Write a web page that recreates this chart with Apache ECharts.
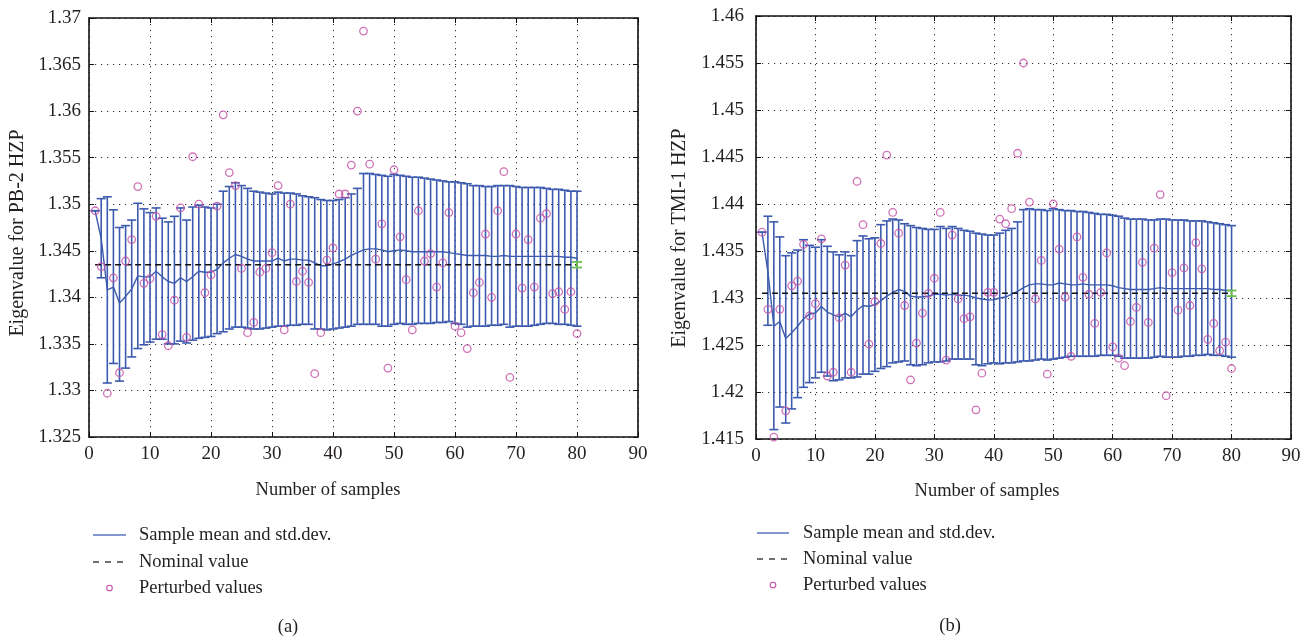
<!DOCTYPE html>
<html>
<head>
<meta charset="utf-8">
<script src="https://cdn.jsdelivr.net/npm/echarts@6/dist/echarts.min.js"></script>
<style>
html,body{margin:0;padding:0;background:#fff;}
#chart{width:1312px;height:644px;}
</style>
</head>
<body>
<div id="chart"></div>
<script>
// ---------- data ----------
const samples = [1,2,3,4,5,6,7,8,9,10,11,12,13,14,15,16,17,18,19,20,
21,22,23,24,25,26,27,28,29,30,31,32,33,34,35,36,37,38,39,40,
41,42,43,44,45,46,47,48,49,50,51,52,53,54,55,56,57,58,59,60,
61,62,63,64,65,66,67,68,69,70,71,72,73,74,75,76,77,78,79,80];

const xTicks = [0,10,20,30,40,50,60,70,80,90];

// (a) PB-2 HZP
const perturbedA = [
1.3493,1.3433,1.3297,1.3421,1.3319,1.3439,1.3462,1.3519,1.3415,1.3420,
1.3487,1.3360,1.3348,1.3397,1.3496,1.3357,1.3551,1.3500,1.3405,1.3424,
1.3498,1.3596,1.3534,1.3520,1.3431,1.3362,1.3373,1.3427,1.3431,1.3448,
1.3520,1.3365,1.3500,1.3417,1.3428,1.3416,1.3318,1.3362,1.3440,1.3453,
1.3511,1.3511,1.3542,1.3600,1.3686,1.3543,1.3441,1.3479,1.3324,1.3537,
1.3465,1.3419,1.3365,1.3493,1.3439,1.3447,1.3411,1.3437,1.3491,1.3369,
1.3362,1.3345,1.3405,1.3416,1.3468,1.3400,1.3493,1.3535,1.3314,1.3468,
1.3410,1.3462,1.3411,1.3485,1.3490,1.3404,1.3406,1.3387,1.3406,1.3361];
const meanA = [
1.3493,1.3463,1.3408,1.3411,1.3394,1.3401,1.3409,1.3423,1.3422,1.3422,
1.3428,1.3422,1.3417,1.3415,1.3421,1.3417,1.3422,1.3428,1.3427,1.3427,
1.3430,1.3437,1.3442,1.3446,1.3444,1.3441,1.3439,1.3439,1.3439,1.3439,
1.3442,1.3439,1.3441,1.3441,1.3440,1.3440,1.3437,1.3434,1.3434,1.3436,
1.3438,1.3441,1.3445,1.3448,1.3451,1.3452,1.3452,1.3451,1.3449,1.3450,
1.3451,1.3450,1.3449,1.3449,1.3449,1.3449,1.3449,1.3449,1.3448,1.3447,
1.3446,1.3445,1.3445,1.3445,1.3445,1.3444,1.3444,1.3445,1.3444,1.3444,
1.3444,1.3444,1.3444,1.3444,1.3444,1.3444,1.3444,1.3443,1.3443,1.3442];
const upperA = [
1.3493,1.3506,1.3508,1.3494,1.3475,1.3477,1.3483,1.3501,1.3495,1.3491,
1.3496,1.3485,1.3481,1.3487,1.3496,1.3483,1.3497,1.3499,1.3497,1.3496,
1.3500,1.3514,1.3519,1.3523,1.3520,1.3517,1.3514,1.3513,1.3512,1.3511,
1.3513,1.3512,1.3512,1.3511,1.3509,1.3508,1.3507,1.3505,1.3504,1.3504,
1.3505,1.3507,1.3511,1.3517,1.3533,1.3533,1.3532,1.3531,1.3530,1.3532,
1.3531,1.3530,1.3529,1.3529,1.3528,1.3527,1.3526,1.3525,1.3524,1.3524,
1.3523,1.3522,1.3520,1.3520,1.3519,1.3519,1.3520,1.3520,1.3520,1.3519,
1.3518,1.3518,1.3518,1.3518,1.3517,1.3516,1.3516,1.3515,1.3514,1.3514];
const lowerA = [
1.3493,1.3421,1.3308,1.3329,1.3310,1.3324,1.3336,1.3345,1.3349,1.3352,
1.3355,1.3355,1.3350,1.3350,1.3353,1.3351,1.3354,1.3356,1.3357,1.3358,
1.3361,1.3363,1.3366,1.3368,1.3368,1.3367,1.3366,1.3366,1.3367,1.3368,
1.3369,1.3369,1.3370,1.3370,1.3371,1.3371,1.3366,1.3366,1.3365,1.3366,
1.3367,1.3368,1.3369,1.3371,1.3371,1.3371,1.3371,1.3369,1.3369,1.3371,
1.3372,1.3371,1.3371,1.3372,1.3372,1.3372,1.3373,1.3373,1.3374,1.3372,
1.3371,1.3368,1.3369,1.3369,1.3369,1.3370,1.3370,1.3371,1.3368,1.3369,
1.3369,1.3369,1.3370,1.3371,1.3372,1.3372,1.3371,1.3371,1.3370,1.3369];
const nominalA = 1.3435;
const nominalSpreadA = [1.3432, 1.3438];

// (b) TMI-1 HZP
const perturbedB = [
1.4370,1.4288,1.4152,1.4288,1.4180,1.4313,1.4318,1.4357,1.4281,1.4294,
1.4363,1.4217,1.4221,1.4279,1.4335,1.4221,1.4424,1.4378,1.4251,1.4296,
1.4358,1.4452,1.4391,1.4369,1.4292,1.4213,1.4252,1.4284,1.4305,1.4321,
1.4391,1.4234,1.4367,1.4299,1.4278,1.4280,1.4181,1.4220,1.4306,1.4306,
1.4384,1.4379,1.4395,1.4454,1.4550,1.4402,1.4299,1.4340,1.4219,1.4400,
1.4352,1.4301,1.4238,1.4365,1.4322,1.4304,1.4273,1.4306,1.4348,1.4248,
1.4236,1.4228,1.4275,1.4290,1.4338,1.4274,1.4353,1.4410,1.4196,1.4327,
1.4287,1.4332,1.4292,1.4359,1.4331,1.4256,1.4273,1.4244,1.4253,1.4225];
const meanB = [
1.4370,1.4328,1.4270,1.4275,1.4257,1.4263,1.4270,1.4278,1.4283,1.4284,
1.4291,1.4285,1.4282,1.4280,1.4284,1.4280,1.4287,1.4292,1.4291,1.4293,
1.4297,1.4302,1.4306,1.4309,1.4307,1.4302,1.4301,1.4301,1.4302,1.4304,
1.4304,1.4303,1.4304,1.4303,1.4303,1.4302,1.4300,1.4299,1.4298,1.4298,
1.4300,1.4301,1.4304,1.4307,1.4311,1.4314,1.4315,1.4315,1.4314,1.4314,
1.4316,1.4315,1.4314,1.4314,1.4315,1.4314,1.4314,1.4314,1.4314,1.4313,
1.4311,1.4310,1.4309,1.4309,1.4309,1.4309,1.4310,1.4311,1.4310,1.4310,
1.4310,1.4310,1.4310,1.4310,1.4310,1.4310,1.4309,1.4309,1.4308,1.4308];
const upperB = [
1.4370,1.4387,1.4381,1.4365,1.4345,1.4348,1.4351,1.4362,1.4356,1.4354,
1.4362,1.4355,1.4349,1.4346,1.4349,1.4345,1.4361,1.4366,1.4363,1.4364,
1.4378,1.4382,1.4384,1.4383,1.4379,1.4377,1.4375,1.4374,1.4373,1.4373,
1.4376,1.4374,1.4376,1.4374,1.4372,1.4371,1.4369,1.4368,1.4367,1.4367,
1.4369,1.4372,1.4374,1.4381,1.4394,1.4395,1.4394,1.4394,1.4393,1.4395,
1.4394,1.4393,1.4393,1.4392,1.4392,1.4391,1.4390,1.4389,1.4389,1.4388,
1.4387,1.4385,1.4384,1.4384,1.4384,1.4383,1.4383,1.4384,1.4384,1.4383,
1.4383,1.4383,1.4382,1.4382,1.4382,1.4381,1.4380,1.4379,1.4378,1.4377];
const lowerB = [
1.4370,1.4271,1.4160,1.4184,1.4167,1.4182,1.4194,1.4205,1.4210,1.4215,
1.4221,1.4217,1.4212,1.4213,1.4215,1.4215,1.4216,1.4219,1.4219,1.4222,
1.4225,1.4227,1.4231,1.4232,1.4233,1.4229,1.4228,1.4229,1.4231,1.4232,
1.4232,1.4233,1.4235,1.4235,1.4235,1.4235,1.4229,1.4228,1.4230,1.4231,
1.4230,1.4231,1.4231,1.4232,1.4233,1.4233,1.4234,1.4235,1.4234,1.4235,
1.4236,1.4237,1.4238,1.4238,1.4238,1.4238,1.4238,1.4239,1.4239,1.4239,
1.4238,1.4236,1.4236,1.4236,1.4236,1.4236,1.4237,1.4238,1.4237,1.4237,
1.4237,1.4238,1.4238,1.4239,1.4239,1.4240,1.4239,1.4239,1.4238,1.4237];
const nominalB = 1.4305;
const nominalSpreadB = [1.4302, 1.4308];

const yTicksA = [1.325,1.33,1.335,1.34,1.345,1.35,1.355,1.36,1.365,1.37];
const yTicksB = [1.415,1.42,1.425,1.43,1.435,1.44,1.445,1.45,1.455,1.46];

const labels = {
  xTitle: 'Number of samples',
  yTitleA: 'Eigenvalue for PB-2 HZP',
  yTitleB: 'Eigenvalue for TMI-1 HZP',
  legend: ['Sample mean and std.dev.', 'Nominal value', 'Perturbed values'],
  panels: ['(a)', '(b)']
};

// ---------- styling ----------
const FONT = '"Liberation Serif", "DejaVu Serif", serif';
const TXT = '#231f20';
const BLUE = '#3c5aae';
const MAG = '#c44fa5';
const GREEN = '#6cc04a';

function errRender(color, capW, lw) {
  return function (params, api) {
    const x = api.value(0), lo = api.value(1), hi = api.value(2);
    const a = api.coord([x, hi]);
    const b = api.coord([x, lo]);
    const h = capW / 2;
    const st = { stroke: color, lineWidth: lw, fill: null };
    return {
      type: 'group',
      children: [
        { type: 'line', shape: { x1: a[0], y1: a[1], x2: b[0], y2: b[1] }, style: st },
        { type: 'line', shape: { x1: a[0] - h, y1: a[1], x2: a[0] + h, y2: a[1] }, style: st },
        { type: 'line', shape: { x1: b[0] - h, y1: b[1], x2: b[0] + h, y2: b[1] }, style: st }
      ]
    };
  };
}

const fmtY = v => (+v).toFixed(3).replace(/0+$/, '');

function axesFor(gi, yMin, yMax, yMargin) {
  const lineStyle = { color: '#111', width: 1.6 };
  const split = { show: true, lineStyle: { color: '#333', width: 1, type: [1.2, 4.8] } };
  const xs = [
    { type: 'value', gridIndex: gi, min: 0, max: 90, interval: 10, position: 'bottom',
      axisLine: { show: true, onZero: false, lineStyle },
      axisTick: { show: true, inside: true, length: 5, lineStyle: { color: '#111' } },
      axisLabel: { show: true, margin: 8, fontFamily: FONT, fontSize: 19, color: TXT },
      splitLine: split },
    { type: 'value', gridIndex: gi, min: 0, max: 90, interval: 10, position: 'top',
      axisLine: { show: true, onZero: false, lineStyle },
      axisTick: { show: true, inside: true, length: 5, lineStyle: { color: '#111' } },
      axisLabel: { show: false }, splitLine: { show: false } }
  ];
  const ys = [
    { type: 'value', gridIndex: gi, min: yMin, max: yMax, interval: 0.005, position: 'left',
      axisLine: { show: true, onZero: false, lineStyle },
      axisTick: { show: true, inside: true, length: 5, lineStyle: { color: '#111' } },
      axisLabel: { show: true, margin: yMargin, fontFamily: FONT, fontSize: 19, color: TXT, formatter: fmtY },
      splitLine: split },
    { type: 'value', gridIndex: gi, min: yMin, max: yMax, interval: 0.005, position: 'right',
      axisLine: { show: true, onZero: false, lineStyle },
      axisTick: { show: true, inside: true, length: 5, lineStyle: { color: '#111' } },
      axisLabel: { show: false }, splitLine: { show: false } }
  ];
  return { xs, ys };
}

const axA = axesFor(0, yTicksA[0], yTicksA[yTicksA.length - 1], 8);
const axB = axesFor(1, yTicksB[0], yTicksB[yTicksB.length - 1], 12);

function seriesFor(xi, yi, mean, lower, upper, pert, nominal, spread) {
  const errData = samples.map((n, i) => [n, lower[i], upper[i]]);
  const meanData = samples.map((n, i) => [n, mean[i]]);
  const pertData = samples.map((n, i) => [n, pert[i]]);
  const first = samples[0], last = samples[samples.length - 1];
  return [
    { type: 'custom', xAxisIndex: xi, yAxisIndex: yi, renderItem: errRender(BLUE, 9, 1.6),
      encode: { x: 0, y: [1, 2] }, data: errData, z: 2, silent: true },
    { type: 'line', xAxisIndex: xi, yAxisIndex: yi, data: meanData, showSymbol: false, symbol: 'none',
      lineStyle: { color: BLUE, width: 1.4 }, z: 3, silent: true },
    { type: 'line', xAxisIndex: xi, yAxisIndex: yi, data: [[first, nominal], [last, nominal]],
      showSymbol: false, symbol: 'none', lineStyle: { color: '#111', width: 1.4, type: [6, 4] }, z: 4, silent: true },
    { type: 'custom', xAxisIndex: xi, yAxisIndex: yi, renderItem: errRender(GREEN, 10, 1.8),
      encode: { x: 0, y: [1, 2] }, data: [[last, spread[0], spread[1]]], z: 5, silent: true },
    { type: 'scatter', xAxisIndex: xi, yAxisIndex: yi, data: pertData, symbol: 'circle', symbolSize: 7.5,
      itemStyle: { color: 'rgba(0,0,0,0)', borderColor: MAG, borderWidth: 1.3 }, z: 6, silent: true }
  ];
}

const T = (text, x, y, size, opts) => Object.assign({
  type: 'text', x, y,
  style: { text, fontFamily: FONT, fontSize: size, fill: TXT, align: 'center', verticalAlign: 'middle' }
}, opts || {});

function legendGraphics(lx0, lx1, tx, ys) {
  const ts = (t, y) => ({ type: 'text', x: tx, y, style: { text: t, fontFamily: FONT, fontSize: 18.5, fill: TXT, align: 'left', verticalAlign: 'middle' } });
  return [
    { type: 'line', shape: { x1: lx0, y1: ys[0], x2: lx1, y2: ys[0] }, style: { stroke: '#5b73bf', lineWidth: 1.5 } },
    { type: 'line', shape: { x1: lx0, y1: ys[1], x2: lx1, y2: ys[1] }, style: { stroke: '#222', lineWidth: 1.3, lineDash: [6, 6] } },
    { type: 'circle', shape: { cx: (lx0 + lx1) / 2, cy: ys[2], r: 2.8 }, style: { stroke: MAG, fill: 'none', lineWidth: 1.1 } },
    ts(labels.legend[0], ys[0]), ts(labels.legend[1], ys[1]), ts(labels.legend[2], ys[2])
  ];
}

const chart = echarts.init(document.getElementById('chart'), null, { renderer: 'canvas' });
chart.setOption({
  animation: false,
  backgroundColor: '#fff',
  grid: [
    { left: 89, top: 18, width: 549, height: 419 },
    { left: 756, top: 16, width: 535, height: 423 }
  ],
  xAxis: axA.xs.concat(axB.xs),
  yAxis: axA.ys.concat(axB.ys),
  series: seriesFor(0, 0, meanA, lowerA, upperA, perturbedA, nominalA, nominalSpreadA)
    .concat(seriesFor(2, 2, meanB, lowerB, upperB, perturbedB, nominalB, nominalSpreadB)),
  graphic: [
    T(labels.xTitle, 328, 490, 18.5),
    T(labels.xTitle, 987, 491, 18.5),
    T(labels.yTitleA, 18, 233, 20, { rotation: Math.PI / 2 }),
    T(labels.yTitleB, 680, 238, 20, { rotation: Math.PI / 2 }),
    T(labels.panels[0], 288, 627, 18.5),
    T(labels.panels[1], 950, 626, 18.5)
  ].concat(legendGraphics(93, 126, 139, [535, 562, 588]))
   .concat(legendGraphics(757, 789, 803, [533, 559, 585]))
});
</script>
</body>
</html>
